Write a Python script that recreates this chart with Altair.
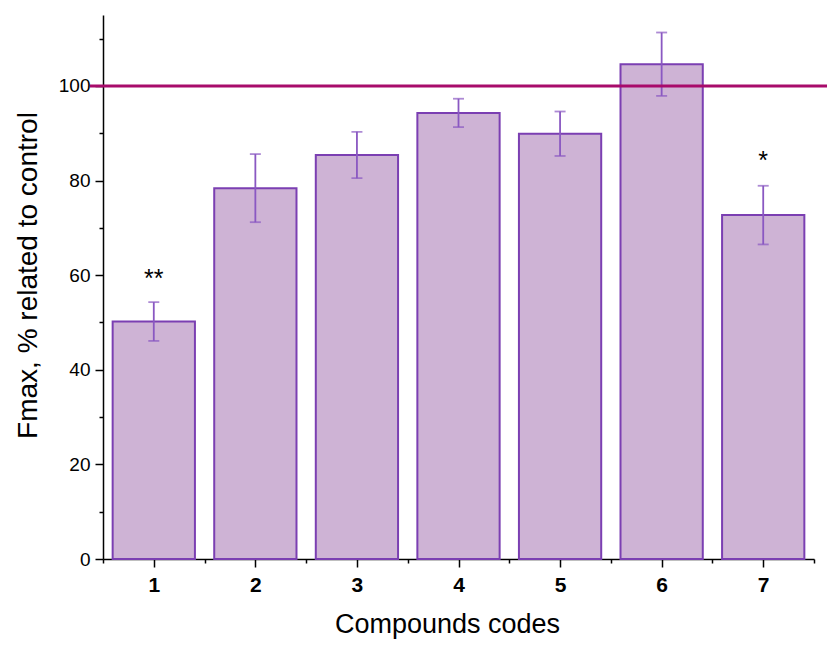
import altair as alt
import pandas as pd

codes = [1, 2, 3, 4, 5, 6, 7]
means = [50.2, 78.4, 85.4, 94.3, 89.9, 104.6, 72.7]
errors = [4.1, 7.2, 4.9, 3.0, 4.7, 6.7, 6.2]
stars = ["**", "", "", "", "", "", "*"]
star_y = [59.2, None, None, None, None, None, 84.2]

df = pd.DataFrame({"code": codes, "mean": means, "err": errors})
sdf = pd.DataFrame({"code": codes, "star": stars, "sy": star_y}).dropna()

W, H = 711, 544
xscale = alt.Scale(domain=[0.5, 7.5], nice=False, zero=False)
yscale = alt.Scale(domain=[0, 115], nice=False)
FONT = "Liberation Sans"
BAR_FILL = "#CEB3D5"
BAR_STROKE = "#7B3FB2"
ERR = "#8A58C2"

base = alt.Chart(df).transform_calculate(
    lo="datum.code - 0.405", hi="datum.code + 0.405",
    elo="datum.mean - datum.err", ehi="datum.mean + datum.err")

bars = base.mark_bar(fill=BAR_FILL, stroke=BAR_STROKE, strokeWidth=2).encode(
    x=alt.X("lo:Q", scale=xscale, axis=alt.Axis(
        orient="bottom", values=codes, format="d", title="Compounds codes",
        labelFont=FONT, labelFontSize=21, labelFontWeight="bold", labelColor="black",
        titleFont=FONT, titleFontSize=27, titleFontWeight="normal", titleColor="black",
        titleX=344, titleY=73, titleBaseline="alphabetic", titleAlign="center",
        labelPadding=7, tickSize=8, tickColor="black", tickWidth=1.5,
        domainColor="black", domainWidth=1.5, grid=False)),
    x2="hi:Q",
    y=alt.Y("mean:Q", scale=yscale, axis=alt.Axis(
        orient="left", values=[0, 20, 40, 60, 80, 100], title="Fmax, % related to control",
        labelFont=FONT, labelFontSize=19, labelColor="black",
        titleFont=FONT, titleFontSize=28, titleFontWeight="normal", titleColor="black",
        titleX=-67, titleY=260, titleAngle=270, titleBaseline="alphabetic", titleAlign="center",
        labelPadding=5, tickSize=8, tickColor="black", tickWidth=1.5,
        domainColor="black", domainWidth=1.5, grid=False)),
    y2=alt.datum(0),
)

rule_err = base.mark_rule(color=ERR, strokeWidth=1.8).encode(
    x=alt.X("code:Q", scale=xscale, axis=alt.Axis(
        orient="bottom", values=[0.5, 1.5, 2.5, 3.5, 4.5, 5.5, 6.5, 7.5], labels=False,
        title=None, domain=False, tickSize=4, tickColor="black", tickWidth=1.5, grid=False)),
    y=alt.Y("elo:Q", scale=yscale, axis=alt.Axis(
        orient="left", values=[10, 30, 50, 70, 90, 110], labels=False, title=None,
        domain=False, tickSize=4, tickColor="black", tickWidth=1.5, grid=False)),
    y2="ehi:Q",
)
cap_hi = base.mark_tick(color=ERR, size=11, thickness=1.8, orient="horizontal").encode(
    x=alt.X("code:Q", scale=xscale, axis=None), y=alt.Y("ehi:Q", scale=yscale, axis=None))
cap_lo = base.mark_tick(color=ERR, size=11, thickness=1.8, orient="horizontal").encode(
    x=alt.X("code:Q", scale=xscale, axis=None), y=alt.Y("elo:Q", scale=yscale, axis=None))

ref = alt.Chart(pd.DataFrame({"ref": [100]})).mark_rule(
    color="#A80B6B", strokeWidth=3, clip=False).encode(
    y=alt.Y("ref:Q", scale=yscale, axis=None),
    x=alt.value(-13), x2=alt.value(W + 21))

txt = alt.Chart(sdf).mark_text(font=FONT, fontSize=25, color="black", baseline="middle").encode(
    x=alt.X("code:Q", scale=xscale, axis=None),
    y=alt.Y("sy:Q", scale=yscale, axis=None),
    text="star:N")

chart = alt.layer(bars, rule_err, cap_hi, cap_lo, ref, txt).resolve_axis(
    x="independent", y="independent").properties(
    width=W, height=H,
    autosize=alt.AutoSizeParams(type="none"),
    padding={"left": 95, "top": 7, "right": 13, "bottom": 80},
).configure_view(stroke=None)

chart.save("out.html", embed_options={"renderer": "svg", "actions": False})
